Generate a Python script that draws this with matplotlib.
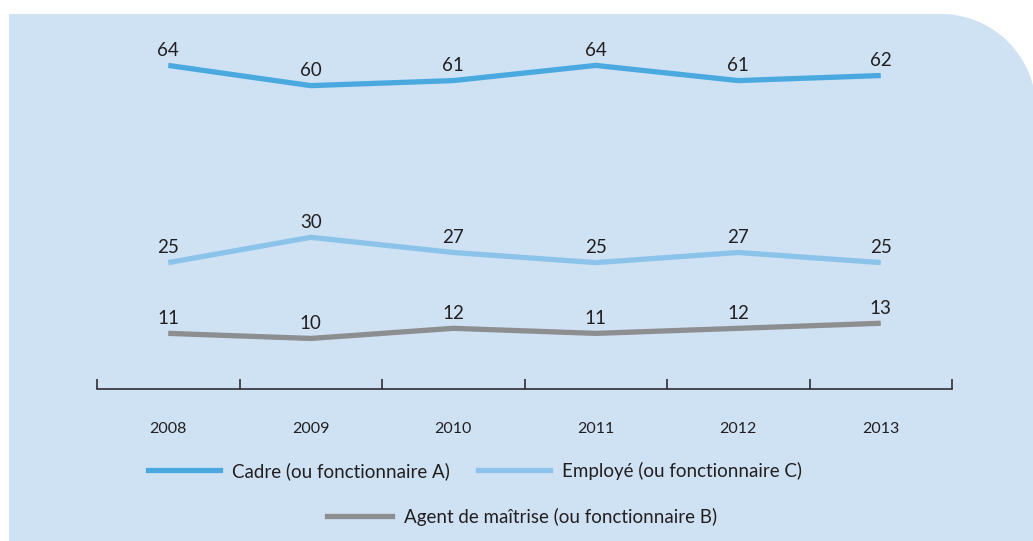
import numpy as np
import matplotlib
matplotlib.use('Agg')
import matplotlib.pyplot as plt
from matplotlib.path import Path
from matplotlib.patches import PathPatch
from matplotlib.lines import Line2D

years = ['2008', '2009', '2010', '2011', '2012', '2013']
cadre = [64, 60, 61, 64, 61, 62]
employe = [25, 30, 27, 25, 27, 25]
agent = [11, 10, 12, 11, 12, 13]

names = ['Cadre (ou fonctionnaire A)', 'Employé (ou fonctionnaire C)', 'Agent de maîtrise (ou fonctionnaire B)']
colors = ['#4aaae0', '#8cc3ea', '#8d8e90']
bg = '#cfe2f4'
txt = '#231f20'

plt.rcParams['font.family'] = ['Lato', 'DejaVu Sans']

W, H = 1033, 541
fig = plt.figure(figsize=(W / 100, H / 100), dpi=100)

# fond bleu avec coin haut-droit arrondi (coordonnees pixels -> fraction)
r = 95
x0, y0, x1, y1 = 9, 14, 1036, 545
t = np.linspace(np.pi / 2, 0, 30)
arc = [(x1 - r + r * np.cos(a), y0 + r - r * np.sin(a)) for a in t]
pts = [(x0, y1), (x0, y0)] + arc + [(x1, y1), (x0, y1)]
pts = [(px / W, 1 - py / H) for px, py in pts]
codes = [Path.MOVETO] + [Path.LINETO] * (len(pts) - 2) + [Path.CLOSEPOLY]
fig.add_artist(PathPatch(Path(pts, codes), facecolor=bg, edgecolor='none',
                         transform=fig.transFigure, zorder=0))

ax = fig.add_axes([97 / W, 1 - 389 / H, (952 - 97) / W, (389 - 14) / H])
ax.patch.set_alpha(0)
x = np.arange(len(years))
for vals, c in zip([cadre, employe, agent], colors):
    ax.plot(x, vals, color=c, linewidth=3.8, solid_capstyle='butt')
    for xi, v in zip(x, vals):
        ax.annotate(str(v), (xi, v), xytext=(0, 7), textcoords='offset points',
                    ha='center', va='baseline', fontsize=13.5, color=txt)

ax.set_xlim(-0.5, len(years) - 0.5)
ax.set_ylim(0, (389 - 14) / 5.056)
for s in ['top', 'left', 'right']:
    ax.spines[s].set_visible(False)
ax.spines['bottom'].set_color(txt)
ax.spines['bottom'].set_linewidth(1.1)
ax.set_yticks([])
ax.set_xticks(np.arange(-0.5, len(years), 1.0))
ax.set_xticklabels([])
ax.tick_params(axis='x', which='major', direction='in', length=7, width=1.1, color=txt)
ax.set_xticks(x, minor=True)
ax.set_xticklabels(years, minor=True, fontsize=11.5, color=txt)
ax.tick_params(axis='x', which='minor', length=0, pad=24)

h = [Line2D([], [], color=c, linewidth=3.8) for c in colors]
leg1 = fig.legend(h[:2], names[:2], loc='center', bbox_to_anchor=(475 / W, 1 - 471 / H),
                  ncol=2, frameon=False, fontsize=13.5, handlelength=3.8,
                  handletextpad=0.64, columnspacing=1.55, labelcolor=txt)
leg2 = fig.legend(h[2:], names[2:], loc='center', bbox_to_anchor=(522 / W, 1 - 517 / H),
                  frameon=False, fontsize=13.5, handlelength=3.5,
                  handletextpad=0.64, labelcolor=txt)

fig.savefig('out.png', dpi=100)
